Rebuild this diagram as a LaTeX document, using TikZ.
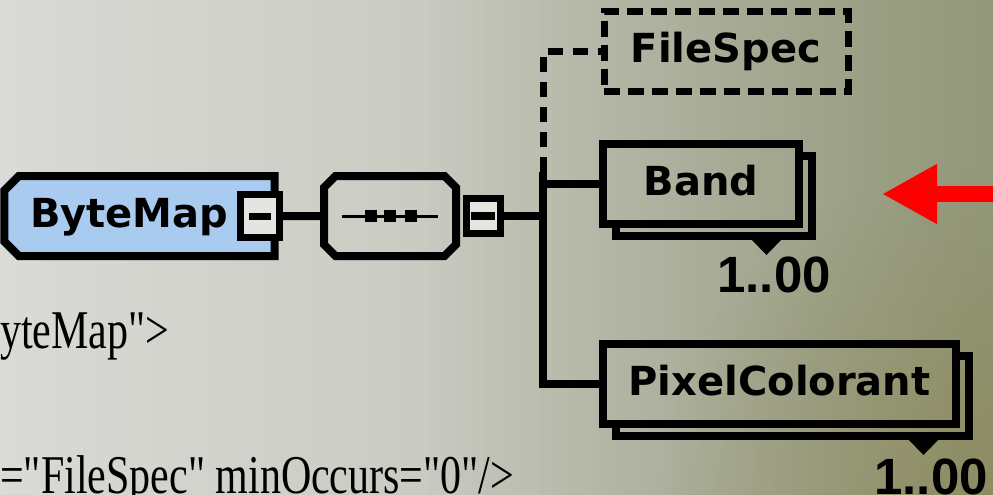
\documentclass[tikz,border=0pt]{standalone}
\usepackage{graphicx}
\usepackage{fontspec}
\newfontfamily\elemfont{DejaVu Sans}
\newfontfamily\occfont{Liberation Sans}
\newfontfamily\codefont{Liberation Serif}
\usetikzlibrary{arrows.meta,positioning,calc,shapes.misc,fadings}
\definecolor{bgleft}{HTML}{DADAD6}
\definecolor{bgmid}{HTML}{C6C7BF}
\definecolor{bggray}{HTML}{B4B6A8}
\definecolor{bgright}{HTML}{8C9270}
\definecolor{bgkhaki}{HTML}{8A8452}
\definecolor{elemblue}{HTML}{A9CBF0}
\definecolor{minusfill}{HTML}{E4E4E0}
\tikzfading[name=cornerfade, inner color=transparent!0, outer color=transparent!100]

\begin{document}
\begin{tikzpicture}[x=1pt, y=-1pt,
  elem/.style={draw, line width=8pt, outer sep=0pt, inner sep=0pt,
    minimum height=80pt, text height=23pt, text depth=0pt,
    font=\elemfont\bfseries\fontsize{40}{40}\selectfont},
  optelem/.style={elem, line width=7pt, dash pattern=on 16pt off 8pt},
  minusbox/.style={draw, line width=7pt, fill=minusfill, outer sep=0pt, inner sep=0pt},
  wire/.style={line width=8pt},
  optwire/.style={line width=7pt, dash pattern=on 15pt off 10pt},
  occ/.style={anchor=base, inner sep=0pt,
    font=\occfont\bfseries\fontsize{51}{51}\selectfont},
  code/.style={anchor=base west, inner sep=0pt,
    font=\codefont\fontsize{42}{42}\selectfont},
  pointer/.style={red, line width=16pt, -{Triangle[length=55pt,width=56pt]}}
]
  % Background
  \useasboundingbox (0,0) rectangle (993,495);
  \clip (0,0) rectangle (993,495);
  \shade[left color=bgleft, middle color=bgmid, right color=bggray] (0,0) rectangle (993,495);
  \fill[bgright, path fading=west, fill opacity=0.9] (420,0) rectangle (1040,495);
  \fill[bgkhaki, path fading=cornerfade, fill opacity=0.6] (993,495) circle (330);

  % Schema source behind the diagram
  \node[code] (codeone) at (0,348) {\scalebox{1}[1.3]{yteMap">}};
  \node[code] (codetwo) at (0,493) {\scalebox{1}[1.3]{="FileSpec" minOccurs="0"/>}};

  % Elements
  \node[elem, chamfered rectangle, chamfered rectangle corners={north west,south west},
    chamfered rectangle xsep=28pt, fill=elemblue, minimum width=247pt,
    text width=219pt, align=left, inner xsep=14pt] (bytemap) at (139.5,216) {ByteMap};
  \node[minusbox, minimum width=39pt, minimum height=43pt] (bytemapminus) at (260,216) {};
  \node[elem, chamfered rectangle, chamfered rectangle xsep=28pt,
    minimum width=132pt] (seq) at (390,216) {};
  \node[minusbox, minimum width=34pt, minimum height=35pt] (seqminus) at (483,216) {};
  \node[optelem, minimum width=244pt, minimum height=79pt] (filespec) at (726,51.5) {FileSpec};
  \node[elem, minimum width=196pt] (band) at (701,184) {Band};
  \node[elem, minimum width=353pt] (pixel) at (779.5,384) {PixelColorant};

  % Minus signs and sequence mark
  \fill ($(bytemapminus.center)+(-11,-3.5)$) rectangle ++(22,7);
  \fill ($(seqminus.center)+(-12,-4)$) rectangle ++(24,8);
  \draw[line width=3pt] ($(seq.center)+(-48,0)$) -- ++(96,0);
  \foreach \dx in {-19,0,21}
    \fill ($(seq.center)+(\dx,0)+(-6,-6)$) rectangle ++(12,12);

  % Stacked copies
  \draw[wire] ($(band.north east)+(4,12)$) -| ($(band.south east)+(13,12)$)
    -| ($(band.south west)+(13,4)$);
  \draw[wire] ($(pixel.north east)+(4,12)$) -| ($(pixel.south east)+(13,12)$)
    -| ($(pixel.south west)+(13,4)$);

  % Occurrences
  \fill ($(band.south east)+(-49,14)$) -- ++(33,0) -- ++(-16.5,17) -- cycle;
  \fill ($(pixel.south east)+(-49,14)$) -- ++(33,0) -- ++(-16.5,17) -- cycle;
  \node[occ] (bandocc) at (774,292) {1..00};
  \node[occ] (pixelocc) at (931,494) {1..00};

  % Connectors
  \coordinate (trunk) at (543,172);
  \draw[wire] (bytemapminus) -- (seq);
  \draw[wire] (seqminus) -- (seqminus -| trunk);
  \draw[wire] (trunk) |- (pixel);
  \draw[wire] (trunk |- band) -- (band);
  \draw[optwire] (trunk) |- (filespec);

  % Pointer
  \coordinate (pointtip) at (882,194);
  \draw[pointer] (1000,194) -- (pointtip);
\end{tikzpicture}
\end{document}
